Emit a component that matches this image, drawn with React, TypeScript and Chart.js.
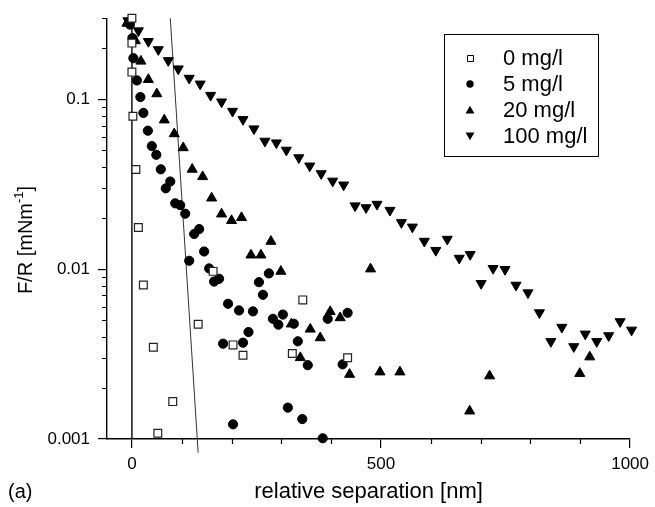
import React, { useEffect, useRef } from 'react';
import { Chart, registerables } from 'chart.js';

Chart.register(...registerables);

const FONT = "'Liberation Sans', Arial, Helvetica, sans-serif";

const seriesNames = ['0 mg/l', '5 mg/l', '20 mg/l', '100 mg/l'];

// 0 mg/l (open squares)
const x0 = [0, 0, 0, 2, 8, 13, 23, 43, 82, 52, 133, 163, 203, 223, 322, 343, 433];
const y0 = [0.3, 0.214, 0.1445, 0.0795, 0.0386, 0.0176, 0.00807, 0.00347, 0.00166, 0.00108, 0.00474, 0.0097, 0.00358, 0.00311, 0.00319, 0.00659, 0.00301];

// 5 mg/l (filled circles)
const x5 = [-4, 1, 3, 10, 17, 23, 32, 40, 49, 58, 77, 68, 87, 97, 107, 115, 125, 135, 145, 155, 165, 175, 193, 215, 183, 223, 234, 243, 255, 263, 275, 283, 294, 303, 203, 313, 325, 333, 353, 342, 383, 393, 433, 423];
const y5 = [0.275, 0.229, 0.1745, 0.129, 0.103, 0.0831, 0.0653, 0.053, 0.0471, 0.0387, 0.0328, 0.0299, 0.0244, 0.0238, 0.0212, 0.0112, 0.0161, 0.0172, 0.0127, 0.0101, 0.00845, 0.00877, 0.00625, 0.00571, 0.00364, 0.00369, 0.00426, 0.00564, 0.00838, 0.00706, 0.00944, 0.0051, 0.00471, 0.0054, 0.00122, 0.00153, 0.00477, 0.00376, 0.00272, 0.00131, 0.00101, 0.0051, 0.00553, 0.00275];

// 20 mg/l (up triangles)
const x20 = [-10, 7, 18, 33, 50, 65, 85, 103, 121, 142, 160, 180, 200, 220, 279, 239, 259, 299, 479, 398, 418, 320, 358, 378, 338, 437, 498, 538, 718, 678, 899, 919];
const y20 = [0.28, 0.221, 0.1675, 0.1306, 0.1076, 0.0755, 0.0626, 0.0518, 0.0387, 0.035, 0.0262, 0.0211, 0.0193, 0.0201, 0.01456, 0.0121, 0.0121, 0.0097, 0.01002, 0.00562, 0.00517, 0.00475, 0.00443, 0.00394, 0.00301, 0.0024, 0.00248, 0.00248, 0.00235, 0.00146, 0.00243, 0.00304];

// 100 mg/l (down triangles)
const x100 = [-8, 13, 33, 53, 73, 93, 115, 137, 158, 180, 202, 223, 245, 267, 290, 310, 335, 357, 380, 403, 425, 448, 470, 492, 518, 541, 563, 587, 610, 633, 657, 679, 701, 725, 749, 771, 795, 818, 841, 863, 887, 910, 933, 957, 980, 1003];
const y100 = [0.29, 0.253, 0.219, 0.196, 0.169, 0.151, 0.133, 0.123, 0.1055, 0.0965, 0.085, 0.076, 0.067, 0.0567, 0.0554, 0.0502, 0.0453, 0.0405, 0.0365, 0.033, 0.0313, 0.0236, 0.023, 0.0241, 0.0222, 0.0188, 0.0177, 0.0146, 0.0129, 0.015, 0.0116, 0.0122, 0.00824, 0.0101, 0.00996, 0.00805, 0.00726, 0.00554, 0.00375, 0.00455, 0.0035, 0.00415, 0.00375, 0.00406, 0.00491, 0.00438];

// reference lines
const zeroLineX = [0, 0];
const zeroLineY = [0.001, 0.3];
const fitLineX = [77, 133];
const fitLineY = [0.3, 0.00083];

// ticks
const xMajorTicks = [0, 500, 1000];
const xTickLabels = ['0', '500', '1000'];
const xMinorTicks = [100, 200, 300, 400, 600, 700, 800, 900];
const yMajorTicks = [0.001, 0.01, 0.1];
const yTickLabels = ['0.001', '0.01', '0.1'];
const yMinorTicks = [0.002, 0.003, 0.004, 0.005, 0.006, 0.007, 0.008, 0.009, 0.02, 0.03, 0.04, 0.05, 0.06, 0.07, 0.08, 0.09, 0.2, 0.3];

const xTitle = 'relative separation [nm]';
const yTitleMain = 'F/R [mNm';
const yTitleSup = '-1';
const yTitleEnd = ']';
const panelLabel = '(a)';

const pts = (xs: number[], ys: number[]) => xs.map((x, i) => ({ x, y: ys[i] }));

function drawLegendMarker(ctx: CanvasRenderingContext2D, kind: number, x: number, y: number) {
  ctx.save();
  ctx.fillStyle = '#000';
  ctx.strokeStyle = '#000';
  ctx.lineWidth = 1;
  ctx.beginPath();
  if (kind === 0) {
    ctx.fillStyle = '#fff';
    ctx.rect(Math.round(x - 3.5) + 0.5, Math.round(y - 3.5) + 0.5, 6, 6);
    ctx.fill();
    ctx.stroke();
  } else if (kind === 1) {
    ctx.arc(x, y, 3.7, 0, Math.PI * 2);
    ctx.fill();
  } else if (kind === 2) {
    ctx.moveTo(x, y - 4.2);
    ctx.lineTo(x + 4.4, y + 3.6);
    ctx.lineTo(x - 4.4, y + 3.6);
    ctx.closePath();
    ctx.fill();
  } else {
    ctx.moveTo(x, y + 4.2);
    ctx.lineTo(x + 4.4, y - 3.6);
    ctx.lineTo(x - 4.4, y - 3.6);
    ctx.closePath();
    ctx.fill();
  }
  ctx.restore();
}

const decorPlugin = {
  id: 'decor',
  afterDraw(chart: any) {
    const { ctx, chartArea: ca } = chart;
    const xs = chart.scales.x;
    const ys = chart.scales.y;
    ctx.save();
    // minor ticks
    ctx.strokeStyle = '#000';
    ctx.lineWidth = 1.2;
    ctx.beginPath();
    for (const v of xMinorTicks) {
      const p = Math.round(xs.getPixelForValue(v)) + 0.5;
      ctx.moveTo(p, ca.bottom);
      ctx.lineTo(p, ca.bottom + 5);
    }
    for (const v of yMinorTicks) {
      const p = Math.round(ys.getPixelForValue(v)) + 0.5;
      ctx.moveTo(ca.left - 5, p);
      ctx.lineTo(ca.left, p);
    }
    ctx.stroke();

    // legend
    const lx = 444.5, ly = 34.5, lw = 154, lh = 122;
    ctx.fillStyle = '#fff';
    ctx.fillRect(lx, ly, lw, lh);
    ctx.strokeStyle = '#000';
    ctx.lineWidth = 1;
    ctx.strokeRect(lx, ly, lw, lh);
    ctx.font = `22px ${FONT}`;
    ctx.textAlign = 'left';
    ctx.textBaseline = 'middle';
    seriesNames.forEach((name, i) => {
      const ry = 58 + i * 26;
      drawLegendMarker(ctx, i, 470, ry);
      ctx.fillStyle = '#000';
      ctx.fillText(name, 503, ry + 1);
    });

    // y title with superscript
    ctx.save();
    ctx.translate(26.5, 240);
    ctx.rotate(-Math.PI / 2);
    ctx.fillStyle = '#000';
    ctx.textBaseline = 'middle';
    ctx.textAlign = 'left';
    ctx.font = `20px ${FONT}`;
    const wa = ctx.measureText(yTitleMain).width;
    const wc = ctx.measureText(yTitleEnd).width;
    ctx.font = `13px ${FONT}`;
    const wb = ctx.measureText(yTitleSup).width;
    let sx = -(wa + wb + wc) / 2;
    ctx.font = `20px ${FONT}`;
    ctx.fillText(yTitleMain, sx, 0);
    sx += wa;
    ctx.font = `13px ${FONT}`;
    ctx.fillText(yTitleSup, sx, -7);
    sx += wb;
    ctx.font = `20px ${FONT}`;
    ctx.fillText(yTitleEnd, sx, 0);
    ctx.restore();

    // panel label
    ctx.fillStyle = '#000';
    ctx.font = `20px ${FONT}`;
    ctx.textAlign = 'left';
    ctx.textBaseline = 'middle';
    ctx.fillText(panelLabel, 8, 492);
    ctx.restore();
  },
};

export default function App() {
  const ref = useRef<HTMLCanvasElement>(null);
  useEffect(() => {
    const canvas = ref.current;
    if (!canvas) return;
    const marker = {
      borderColor: '#000',
      borderWidth: 1,
      clip: false as any,
      showLine: false,
    };
    const chart = new Chart(canvas, {
      type: 'scatter',
      data: {
        datasets: [
          { label: seriesNames[0], data: pts(x0, y0), pointStyle: 'rect', pointRadius: 5.5, backgroundColor: '#fff', ...marker, borderColor: '#222', borderWidth: 1.2 },
          { label: seriesNames[1], data: pts(x5, y5), pointStyle: 'circle', pointRadius: 4.6, backgroundColor: '#000', ...marker },
          { label: seriesNames[2], data: pts(x20, y20), pointStyle: 'triangle', pointRadius: 5.8, backgroundColor: '#000', ...marker },
          { label: seriesNames[3], data: pts(x100, y100), pointStyle: 'triangle', pointRotation: 180, pointRadius: 5.8, backgroundColor: '#000', ...marker },
          { label: 'x=0', data: pts(zeroLineX, zeroLineY), showLine: true, pointRadius: 0, borderColor: '#000', borderWidth: 1.4, clip: false as any },
          { label: 'fit', data: pts(fitLineX, fitLineY), showLine: true, pointRadius: 0, borderColor: '#333', borderWidth: 1, clip: false as any },
        ] as any,
      },
      options: {
        responsive: false,
        animation: false,
        events: [],
        layout: { padding: { top: 16, right: 23, left: 0, bottom: 0 } },
        plugins: { legend: { display: false }, tooltip: { enabled: false } },
        scales: {
          x: {
            type: 'linear',
            min: -50,
            max: 1000,
            afterBuildTicks: (s: any) => { s.ticks = xMajorTicks.map((v) => ({ value: v })); },
            afterFit: (s: any) => { s.height = 68; },
            ticks: {
              font: { family: FONT, size: 17 },
              color: '#000',
              padding: 6,
              maxRotation: 0,
              autoSkip: false,
              callback: (v: any) => { const i = xMajorTicks.indexOf(Number(v)); return i >= 0 ? xTickLabels[i] : ''; },
            },
            grid: { display: true, drawOnChartArea: false, drawTicks: true, tickLength: 9, color: '#000', lineWidth: 1.2 },
            border: { display: true, color: '#000', width: 1.4 },
            title: { display: true, text: xTitle, font: { family: FONT, size: 22 }, color: '#000', padding: { top: 0, bottom: 2 } },
          },
          y: {
            type: 'logarithmic',
            min: 0.001,
            max: 0.3,
            afterBuildTicks: (s: any) => { s.ticks = yMajorTicks.map((v) => ({ value: v })); },
            afterFit: (s: any) => { s.width = 107; },
            ticks: {
              font: { family: FONT, size: 17 },
              color: '#000',
              padding: 8,
              autoSkip: false,
              callback: (v: any) => { const i = yMajorTicks.indexOf(Number(v)); return i >= 0 ? yTickLabels[i] : ''; },
            },
            grid: { display: true, drawOnChartArea: false, drawTicks: true, tickLength: 9, color: '#000', lineWidth: 1.2 },
            border: { display: true, color: '#000', width: 1.4 },
          },
        },
      } as any,
      plugins: [decorPlugin as any],
    });
    return () => chart.destroy();
  }, []);
  return (
    <div style={{ position: 'absolute', left: 0, top: 0, width: 655, height: 507, background: '#fff' }}>
      <canvas ref={ref} width={655} height={507} style={{ display: 'block' }} />
    </div>
  );
}
